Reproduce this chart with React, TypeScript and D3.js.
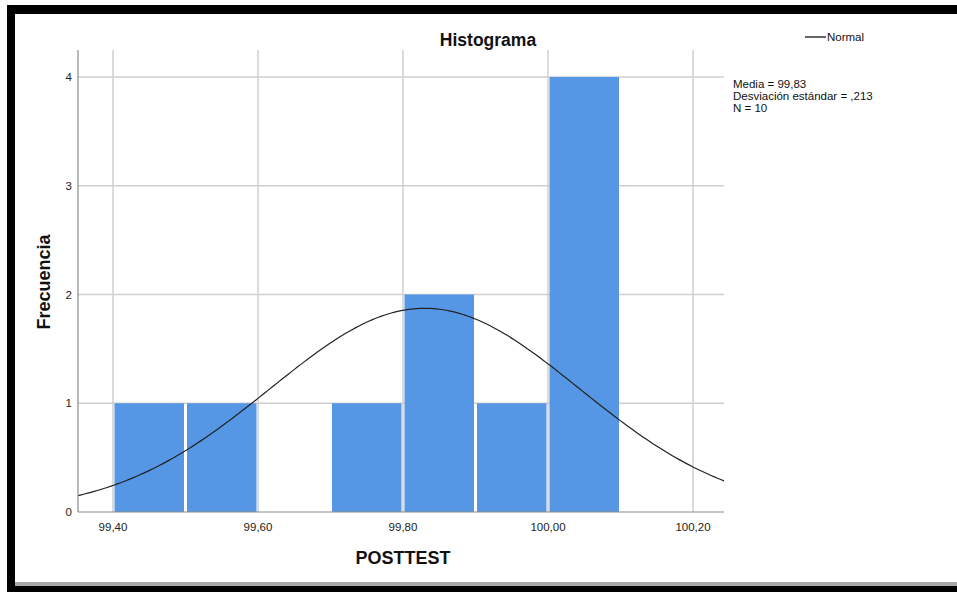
import React from "react";
import * as d3 from "d3";

const binStarts = [99.4, 99.5, 99.6, 99.7, 99.8, 99.9, 100.0];
const binCounts = [1, 1, 0, 1, 2, 1, 4];
const binWidth = 0.1;
const xTicks = [99.4, 99.6, 99.8, 100.0, 100.2];
const yTicks = [0, 1, 2, 3, 4];
const statLines = ["Media = 99,83", "Desviación estándar = ,213", "N = 10"];
const mean = 99.83;
const sd = 0.213;
const n = 10;

const W = 957;
const H = 592;
const plot = { left: 78, right: 724, top: 50, bottom: 512 };
const FONT = "'Liberation Sans', Arial, sans-serif";

export default function App() {
  const x = d3.scaleLinear().domain([99.4, 100.2]).range([113, 693]);
  const xDomain = [x.invert(plot.left), x.invert(plot.right)];
  const y = d3.scaleLinear().domain([0, 4]).range([plot.bottom, 77]);

  const pdf = (v: number) =>
    (n * binWidth) / (sd * Math.sqrt(2 * Math.PI)) * Math.exp(-0.5 * ((v - mean) / sd) ** 2);
  const curvePts = d3.range(0, 201).map((i) => {
    const v = xDomain[0] + ((xDomain[1] - xDomain[0]) * i) / 200;
    return [v, pdf(v)] as [number, number];
  });
  const line = d3.line<[number, number]>().x((d) => x(d[0])).y((d) => y(d[1]));

  const fmt = (v: number) => v.toFixed(2).replace(".", ",");
  const grid = "#cfcfcf";

  return (
    <svg width={W} height={H} style={{ position: "absolute", left: 0, top: 0, background: "#fff" }} fontFamily={FONT}>
      {/* frame */}
      <rect x={0} y={0} width={W} height={H} fill="#fff" />
      <rect x={7} y={5} width={W - 7} height={9} fill="#000" />
      <rect x={7} y={5} width={8} height={H - 5} fill="#000" />
      <rect x={15} y={582} width={W - 15} height={4} fill="#a8a8a8" />
      <rect x={7} y={586} width={W - 7} height={6} fill="#000" />

      {/* gridlines */}
      {yTicks.filter((t) => t > 0).map((t) => (
        <line key={"hy" + t} x1={plot.left} x2={plot.right} y1={y(t)} y2={y(t)} stroke={grid} strokeWidth={1.5} />
      ))}
      {xTicks.map((t) => (
        <line key={"vx" + t} x1={x(t)} x2={x(t)} y1={plot.top} y2={plot.bottom} stroke={grid} strokeWidth={1.5} />
      ))}

      {/* bars */}
      {binStarts.map((s, i) =>
        binCounts[i] > 0 ? (
          <rect
            key={"b" + i}
            x={x(s) + 1.5}
            y={y(binCounts[i])}
            width={x(s + binWidth) - x(s) - 3}
            height={y(0) - y(binCounts[i])}
            fill="#5596e5"
          />
        ) : null
      )}

      {/* normal curve */}
      <path d={line(curvePts) || ""} fill="none" stroke="#222" strokeWidth={1.2} />

      {/* axes */}
      <line x1={plot.left} x2={plot.left} y1={plot.top} y2={plot.bottom} stroke="#8c8c8c" strokeWidth={1.2} />
      <line x1={plot.left} x2={plot.right} y1={plot.bottom} y2={plot.bottom} stroke="#8c8c8c" strokeWidth={1.2} />

      {/* tick labels */}
      {yTicks.map((t) => (
        <text key={"yl" + t} x={72} y={y(t) + 4} fontSize={11.5} textAnchor="end" fill="#222">
          {t}
        </text>
      ))}
      {xTicks.map((t) => (
        <text key={"xl" + t} x={x(t)} y={531} fontSize={11.5} textAnchor="middle" fill="#222">
          {fmt(t)}
        </text>
      ))}

      {/* titles */}
      <text x={488} y={46} fontSize={17.5} fontWeight="bold" textAnchor="middle" fill="#111">
        Histograma
      </text>
      <text x={403} y={564} fontSize={18} fontWeight="bold" textAnchor="middle" fill="#111">
        POSTTEST
      </text>
      <text
        transform={`translate(50,282) rotate(-90)`}
        fontSize={18}
        fontWeight="bold"
        textAnchor="middle"
        fill="#111"
      >
        Frecuencia
      </text>

      {/* legend */}
      <line x1={805} x2={826} y1={37} y2={37} stroke="#333" strokeWidth={1.5} />
      <text x={827} y={41} fontSize={11.5} fill="#111">
        Normal
      </text>
      {statLines.map((s, i) => (
        <text key={"s" + i} x={733} y={88 + i * 12} fontSize={11.5} fill="#111">
          {s}
        </text>
      ))}
    </svg>
  );
}
